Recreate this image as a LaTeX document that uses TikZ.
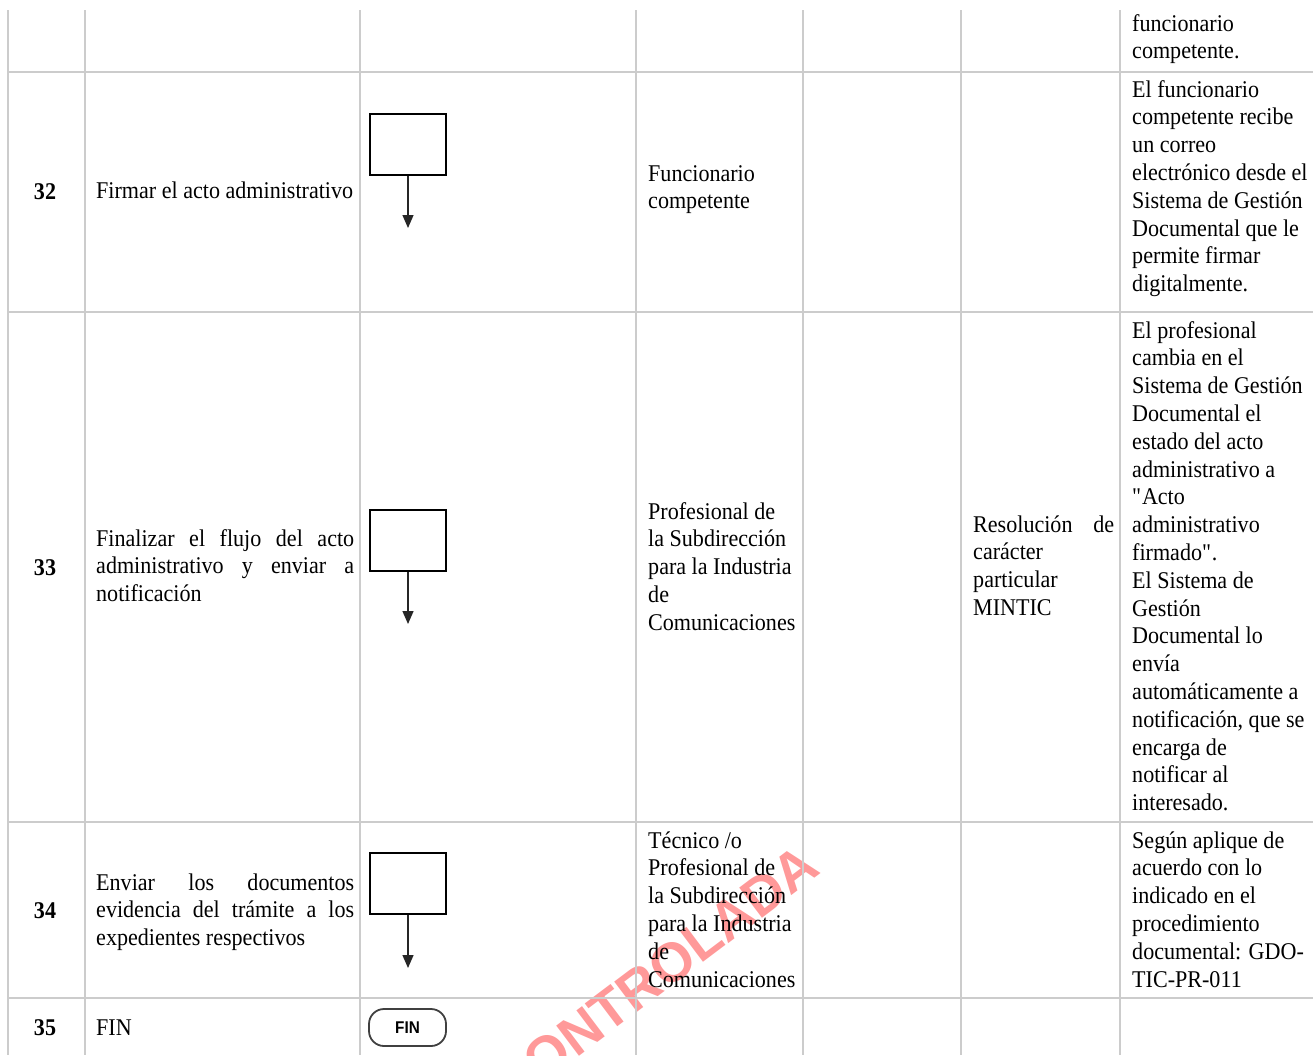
\documentclass[tikz,border=0pt]{standalone}
\usepackage{fontspec}
\setmainfont{Liberation Serif}[FakeStretch=0.92]
\newfontfamily\wmfont{Liberation Sans}
\newfontfamily\finfont{Liberation Sans}[FakeStretch=0.9]
\usetikzlibrary{arrows.meta}
\newcommand\Lx[1]{\hbox{#1}}
\newcommand\Jx[2]{\hbox{\makebox[#1][s]{#2}}}
\tikzset{
  gridline/.style={draw=black!20, line width=2pt},
  cell/.style={anchor=base west, inner sep=0pt, font=\fontsize{24}{27.8}\selectfont},
  num/.style={anchor=base, inner sep=0pt, font=\fontsize{24}{27.8}\selectfont\bfseries},
  proc/.style={draw=black, line width=1.9pt, minimum width=76pt, minimum height=61pt, inner sep=0pt},
  flow/.style={draw=black!85, line width=1.3pt, -{Triangle[width=11pt,length=13pt]}},
  term/.style={draw=black!75, line width=1.8pt, rounded corners=15pt, minimum width=77pt, minimum height=37pt, inner sep=0pt, font=\finfont\bfseries\fontsize{17}{17}\selectfont},
  wm/.style={text=red, text opacity=0.4, inner sep=0pt, font=\wmfont\bfseries\fontsize{55}{55}\selectfont}
}
\begin{document}
\begin{tikzpicture}[x=1pt,y=-1pt]
\useasboundingbox (0,0) rectangle (1313,1055);
\fill[white] (0,0) rectangle (1313,1055);
% watermark
\begin{scope}
\clip (0,0) rectangle (1313,1055);
\node[wm, rotate=37] (wm) at (655,975) {CONTROLADA};
\end{scope}
% grid
\foreach \x in {8,85,360,636,803,961,1120} {\draw[gridline] (\x,10) -- (\x,1055);}
\foreach \y in {72,312,822,998} {\draw[gridline] (8,\y) -- (1313,\y);}
% numbers
\node[num] (n32) at (45,199) {32};
\node[num] (n33) at (45,575) {33};
\node[num] (n34) at (45,918) {34};
\node[num] (n35) at (45,1035) {35};
% activities
\node[cell] (a32) at (96,198) {Firmar el acto administrativo};
\node[cell] (a33) at (96,546) {\vtop{\Jx{258pt}{Finalizar el flujo del acto}\Jx{258pt}{administrativo y enviar a}\Lx{notificación}}};
\node[cell] (a34) at (96,890) {\vtop{\Jx{258pt}{Enviar los documentos}\Jx{258pt}{evidencia del trámite a los}\Lx{expedientes respectivos}}};
\node[cell] (a35) at (96,1035) {FIN};
% flow symbols
\node[proc] (p32) at (408,144.5) {};
\coordinate (e32) at (408,228);
\draw[flow] (p32.south) -- (e32);
\node[proc] (p33) at (408,540.5) {};
\coordinate (e33) at (408,624);
\draw[flow] (p33.south) -- (e33);
\node[proc] (p34) at (408,883.5) {};
\coordinate (e34) at (408,968);
\draw[flow] (p34.south) -- (e34);
\node[term] (fin) at (407.5,1027.5) {FIN};
% responsible
\node[cell] (r32) at (648,181) {\vtop{\Lx{Funcionario}\Lx{competente}}};
\node[cell] (r33) at (648,519) {\vtop{\Lx{Profesional de}\Lx{la Subdirección}\Lx{para la Industria}\Lx{de}\Lx{Comunicaciones}}};
\node[cell] (r34) at (648,848) {\vtop{\Lx{Técnico /o}\Lx{Profesional de}\Lx{la Subdirección}\Lx{para la Industria}\Lx{de}\Lx{Comunicaciones}}};
% registro
\node[cell] (d33) at (973,532) {\vtop{\Jx{141pt}{Resolución de}\Lx{carácter}\Lx{particular}\Lx{MINTIC}}};
% observations
\node[cell] (o31) at (1132,31) {\vtop{\Lx{funcionario}\Lx{competente.}}};
\node[cell] (o32) at (1132,97) {\vtop{\Lx{El funcionario}\Lx{competente recibe}\Lx{un correo}\Lx{electrónico desde el}\Lx{Sistema de Gestión}\Lx{Documental que le}\Lx{permite firmar}\Lx{digitalmente.}}};
\node[cell] (o33) at (1132,338) {\vtop{\Lx{El profesional}\Lx{cambia en el}\Lx{Sistema de Gestión}\Lx{Documental el}\Lx{estado del acto}\Lx{administrativo a}\Lx{\textquotedbl Acto}\Lx{administrativo}\Lx{firmado\textquotedbl.}\Lx{El Sistema de}\Lx{Gestión}\Lx{Documental lo}\Lx{envía}\Lx{automáticamente a}\Lx{notificación, que se}\Lx{encarga de}\Lx{notificar al}\Lx{interesado.}}};
\node[cell] (o34) at (1132,848) {\vtop{\Lx{Según aplique de}\Lx{acuerdo con lo}\Lx{indicado en el}\Lx{procedimiento}\Lx{documental: GDO-}\Lx{TIC-PR-011}}};
\end{tikzpicture}
\end{document}
